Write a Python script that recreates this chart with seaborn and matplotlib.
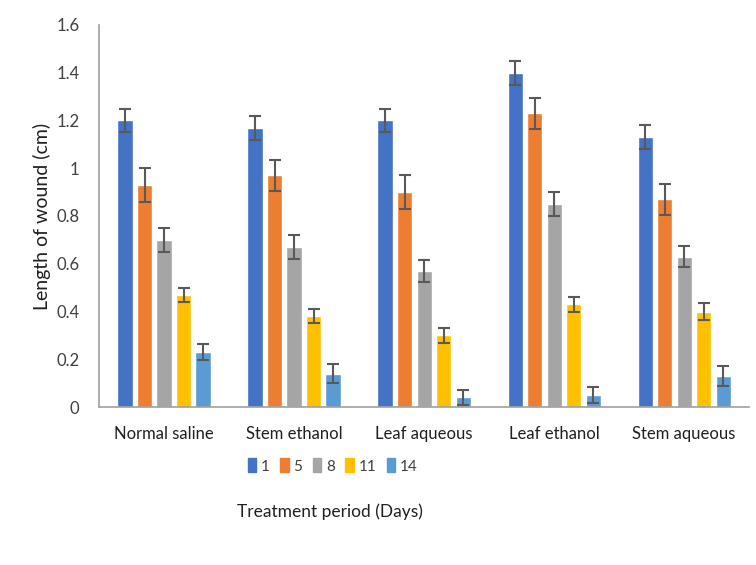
import numpy as np
import pandas as pd
import seaborn as sns
import matplotlib.pyplot as plt

# datos
tratamientos = ["Normal saline", "Stem ethanol", "Leaf aqueous", "Leaf ethanol", "Stem aqueous"]
dias = ["1", "5", "8", "11", "14"]

dia_1 = [1.20, 1.17, 1.20, 1.40, 1.13]
dia_5 = [0.93, 0.97, 0.90, 1.23, 0.87]
dia_8 = [0.70, 0.67, 0.57, 0.85, 0.63]
dia_11 = [0.47, 0.38, 0.30, 0.43, 0.40]
dia_14 = [0.23, 0.14, 0.04, 0.05, 0.13]

err_1 = [0.05, 0.05, 0.05, 0.05, 0.05]
err_5 = [0.07, 0.065, 0.07, 0.065, 0.065]
err_8 = [0.05, 0.05, 0.045, 0.05, 0.045]
err_11 = [0.03, 0.03, 0.03, 0.03, 0.035]
err_14 = [0.035, 0.04, 0.03, 0.035, 0.04]

valores = [dia_1, dia_5, dia_8, dia_11, dia_14]
errores = [err_1, err_5, err_8, err_11, err_14]
colores = ["#4472C4", "#ED7D31", "#A5A5A5", "#FFC000", "#5B9BD5"]

df = pd.DataFrame({
    "tratamiento": tratamientos * len(dias),
    "dia": np.repeat(dias, len(tratamientos)),
    "longitud": np.concatenate(valores),
})

sns.set_style("white")
plt.rcParams["font.family"] = ["Lato", "DejaVu Sans"]

fig = plt.figure(figsize=(7.56, 5.65), dpi=100)
ax = fig.add_axes([0.131, 0.2796, 0.86, 0.6762])

sns.barplot(data=df, x="tratamiento", y="longitud", hue="dia",
            palette=colores, saturation=1, width=0.75, gap=0.22,
            errorbar=None, ax=ax)

# barras de error con las posiciones de seaborn
for cont, err in zip(ax.containers, errores):
    xs = [b.get_x() + b.get_width() / 2 for b in cont]
    ys = [b.get_height() for b in cont]
    ax.errorbar(xs, ys, yerr=err, fmt="none", ecolor="#595959",
                elinewidth=1.5, capsize=4, capthick=1.5)

ax.set_ylim(0, 1.6)
ax.set_xlim(-0.5, 4.5)
ax.set_yticks(np.arange(0, 1.61, 0.2))
ax.set_yticklabels(["0", "0.2", "0.4", "0.6", "0.8", "1", "1.2", "1.4", "1.6"])
ax.tick_params(axis="y", length=0, pad=14, labelsize=12, labelcolor="#404040")
ax.tick_params(axis="x", length=0, pad=14, labelsize=12, labelcolor="#202020")
ax.set_xlabel("")
ax.set_ylabel("Length of wound (cm)", fontsize=14, color="#202020", labelpad=4)

for s in ["top", "right"]:
    ax.spines[s].set_visible(False)
for s in ["left", "bottom"]:
    ax.spines[s].set_color("#A0A0A0")
    ax.spines[s].set_linewidth(1.2)

ax.get_legend().remove()
handles = [plt.Rectangle((0, 0), 1, 1, color=c) for c in colores]
fig.legend(handles, dias, loc="center", bbox_to_anchor=(0.44, 1 - 466 / 565),
           ncol=5, frameon=False, fontsize=11, handlelength=0.55, handleheight=1.0,
           handletextpad=0.3, columnspacing=0.7, labelcolor="#404040")

fig.text(0.437, 1 - 512 / 565, "Treatment period (Days)", ha="center", va="center",
         fontsize=12.5, color="#202020")

fig.savefig("out.png", dpi=100)
